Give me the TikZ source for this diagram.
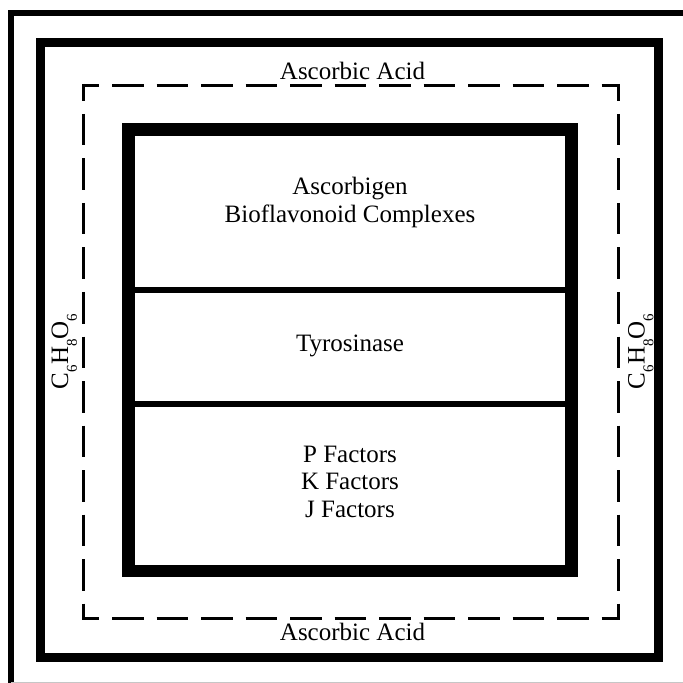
\documentclass[tikz,border=0pt]{standalone}
\usepackage{fontspec}
\setmainfont{Liberation Serif}
\newcommand\mysubdig[1]{\raisebox{-0.35em}{\fontsize{7.5}{8}\selectfont #1}}
\begin{document}
\begin{tikzpicture}[x=0.5pt,y=-0.5pt,
  lbl/.style={inner sep=0pt,font=\fontsize{12.5}{13.75}\selectfont,align=center},
  outerline/.style={line width=3pt,line join=miter},
  framebox/.style={line width=4.5pt,line join=miter},
  dashside/.style={line width=1.5pt,dash pattern=on 15.75pt off 6.5pt,dash phase=7.25pt},
  innerbox/.style={line width=6.35pt,line join=miter},
  divider/.style={line width=3.35pt}]
\useasboundingbox (0,0) rectangle (683,683);
% outer partial frame
\coordinate (otr) at (683,13);
\coordinate (otl) at (11,13);
\coordinate (obl) at (11,683);
\draw[outerline] (otr) -- (otl) -- (obl);
\coordinate (gl) at (11,682.5);
\coordinate (gr) at (683,682.5);
\draw[gray!45,line width=0.5pt] (gl) -- (gr);
% thick frame
\coordinate (f1) at (40.5,42.5);
\coordinate (f2) at (658.5,657.5);
\draw[framebox] (f1) rectangle (f2);
% dashed box, one side at a time
\coordinate (dt1) at (82,85.5);  \coordinate (dt2) at (620,85.5);
\coordinate (db1) at (82,618.5); \coordinate (db2) at (620,618.5);
\coordinate (dl1) at (83.5,84);  \coordinate (dl2) at (83.5,620);
\coordinate (dr1) at (618.5,84); \coordinate (dr2) at (618.5,620);
\draw[dashside] (dt1) -- (dt2);
\draw[dashside] (db1) -- (db2);
\draw[dashside] (dl1) -- (dl2);
\draw[dashside] (dr1) -- (dr2);
% inner box and dividers
\coordinate (i1) at (128.5,129.5);
\coordinate (i2) at (571.5,571);
\draw[innerbox] (i1) rectangle (i2);
\coordinate (d1l) at (128.5,290); \coordinate (d1r) at (571.5,290);
\coordinate (d2l) at (128.5,404); \coordinate (d2r) at (571.5,404);
\draw[divider] (d1l) -- (d1r);
\draw[divider] (d2l) -- (d2r);
% texts
\node[lbl,anchor=base] (toplbl) at (352.5,80) {Ascorbic Acid};
\node[lbl,anchor=base] (botlbl) at (352.5,640) {Ascorbic Acid};
\node[lbl] (sec1) at (350,202.7) {Ascorbigen\\Bioflavonoid Complexes};
\node[lbl,anchor=base] (sec2) at (350,351.7) {Tyrosinase};
\node[lbl] (sec3) at (350,481.8) {P Factors\\K Factors\\J Factors};
\node[lbl,rotate=90,anchor=base] (leftlbl) at (68,351.5) {C\mysubdig{6}H\mysubdig{8}O\mysubdig{6}};
\node[lbl,rotate=90,anchor=base] (rightlbl) at (644.5,351.5) {C\mysubdig{6}H\mysubdig{8}O\mysubdig{6}};
\end{tikzpicture}
\end{document}
